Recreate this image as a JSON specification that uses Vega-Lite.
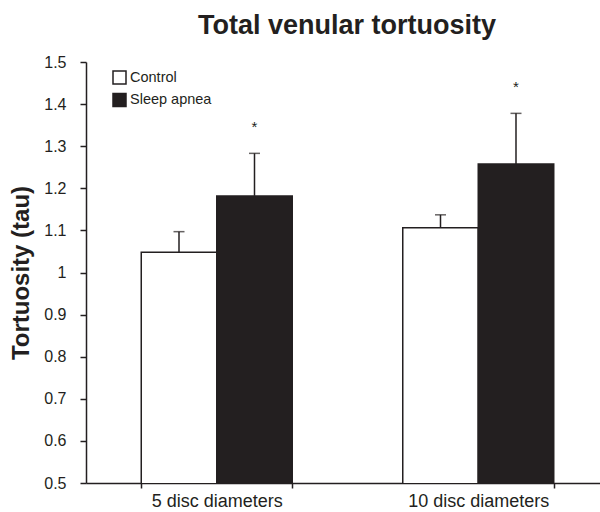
{
  "$schema": "https://vega.github.io/schema/vega-lite/v6.json",
  "width": 514,
  "height": 421,
  "autosize": {"type": "none"},
  "padding": {"left": 86, "top": 62, "right": 0, "bottom": 29},
  "background": "white",
  "config": {"view": {"stroke": null}, "font": "Liberation Sans"},
  "title": {"text": "Total venular tortuosity", "fontSize": 27, "font": "Liberation Sans", "fontWeight": "bold", "color": "#231f20", "anchor": "middle", "offset": 14, "dx": 4},
  "data": {"values": [
    {"distance": "5 disc diameters", "group": "Control", "mean": 1.048, "upper": 1.097, "sig": ""},
    {"distance": "5 disc diameters", "group": "Sleep apnea", "mean": 1.182, "upper": 1.283, "sig": "*"},
    {"distance": "10 disc diameters", "group": "Control", "mean": 1.106, "upper": 1.137, "sig": ""},
    {"distance": "10 disc diameters", "group": "Sleep apnea", "mean": 1.258, "upper": 1.378, "sig": "*"}
  ]},
  "encoding": {
    "x": {"field": "distance", "type": "nominal", "sort": ["5 disc diameters", "10 disc diameters"],
      "scale": {"range": [0, 523], "paddingInner": 0.4226, "paddingOuter": 0.2113},
      "axis": {"title": null, "tickBand": "extent", "tickSize": 5, "tickWidth": 1.5, "tickColor": "#231f20", "domainColor": "#231f20", "domainWidth": 1.5, "labelFontSize": 18, "labelFont": "Liberation Sans", "labelColor": "#231f20", "labelPadding": 4, "labelAngle": 0}},
    "xOffset": {"field": "group", "type": "nominal", "sort": ["Control", "Sleep apnea"], "scale": {"paddingInner": 0, "paddingOuter": 0}}
  },
  "layer": [
    {
      "mark": {"type": "bar", "stroke": "#231f20", "strokeWidth": 1.5, "clip": true},
      "encoding": {
        "y": {"field": "mean", "type": "quantitative", "title": "Tortuosity (tau)",
          "scale": {"domain": [0.5, 1.5], "nice": false, "zero": false},
          "axis": {"values": [0.5, 0.6, 0.7, 0.8, 0.9, 1, 1.1, 1.2, 1.3, 1.4, 1.5], "format": "~g", "grid": false,
            "domainColor": "#231f20", "domainWidth": 1.5, "tickColor": "#231f20", "tickWidth": 1.5, "tickSize": 6,
            "labelFontSize": 16, "labelFont": "Liberation Sans", "labelColor": "#231f20", "labelPadding": 14,
            "titleFontSize": 24, "titleFont": "Liberation Sans", "titleFontWeight": "bold", "titleColor": "#231f20",
            "titleX": -65, "titleY": 210.5, "titleAngle": -90, "titleAlign": "center", "titleBaseline": "middle"}},
        "fill": {"field": "group", "type": "nominal", "sort": ["Control", "Sleep apnea"],
          "scale": {"domain": ["Control", "Sleep apnea"], "range": ["white", "#231f20"]},
          "legend": {"title": null, "orient": "none", "legendX": 26, "legendY": 8, "symbolType": "square", "symbolSize": 169,
            "symbolStrokeColor": "#231f20", "symbolStrokeWidth": 1.5, "labelFontSize": 14.5, "labelFont": "Liberation Sans",
            "labelColor": "#231f20", "labelOffset": 3, "rowPadding": 3.5}}
      }
    },
    {
      "mark": {"type": "rule", "color": "#231f20", "strokeWidth": 1.5},
      "encoding": {"y": {"field": "mean", "type": "quantitative", "title": "Tortuosity (tau)"}, "y2": {"field": "upper"}}
    },
    {
      "mark": {"type": "tick", "color": "#231f20", "thickness": 1.5, "size": 11, "orient": "horizontal"},
      "encoding": {"y": {"field": "upper", "type": "quantitative", "title": "Tortuosity (tau)"}}
    },
    {
      "mark": {"type": "text", "dy": -21, "fontSize": 15, "color": "#231f20", "baseline": "alphabetic", "font": "Liberation Sans"},
      "encoding": {"y": {"field": "upper", "type": "quantitative", "title": "Tortuosity (tau)"}, "text": {"field": "sig"}}
    }
  ]
}
